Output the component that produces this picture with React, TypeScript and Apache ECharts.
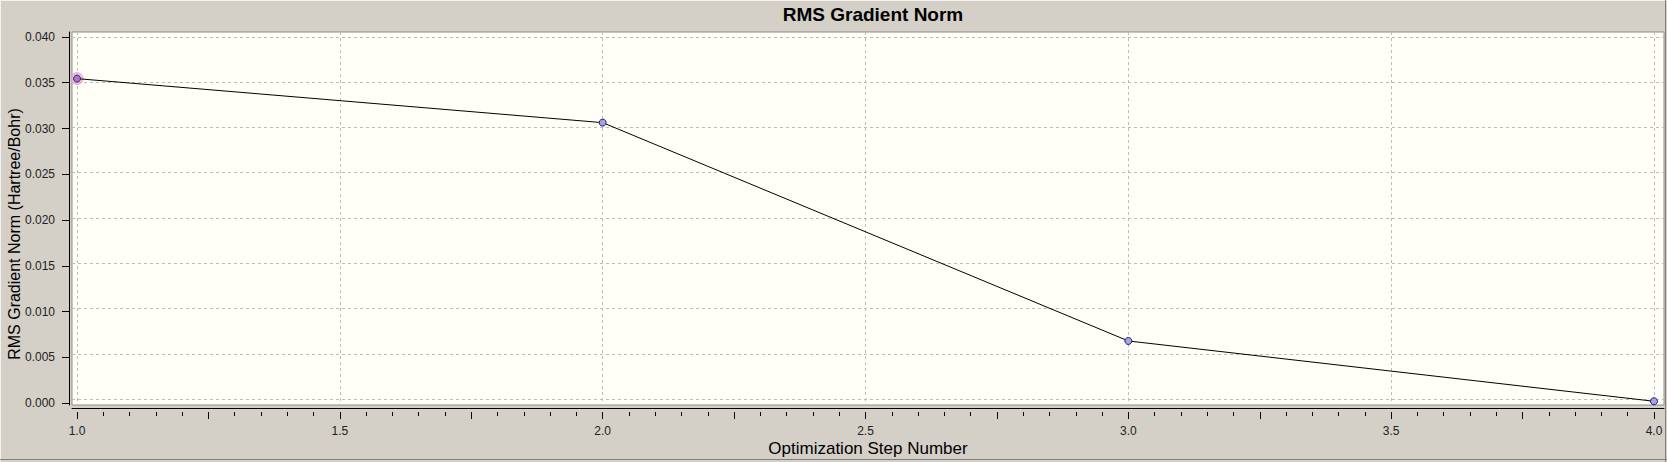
import React, { useEffect, useRef } from "react";
import * as echarts from "echarts";

// ---- chart texts ----
const TITLE = "RMS Gradient Norm";
const X_NAME = "Optimization Step Number";
const Y_NAME = "RMS Gradient Norm (Hartree/Bohr)";

// ---- data ----
const steps = [1, 2, 3, 4];
const rmsGradient = [0.03545, 0.03064, 0.00678, 0.00019];
const selectedIndex = 0;

// ---- axes ----
const xRange = [1, 4];
const xLabelStep = 0.5;
const xTickStep = 0.25;
const yRange = [0, 0.04];
const yStep = 0.005;
// whole plot area is slightly wider than the data range
const xView = [0.99049, 4.01902];
const yView = [-0.000656, 0.040546];

const FONT = "'Liberation Sans', Arial, Helvetica, sans-serif";

export default function App() {
  const ref = useRef<HTMLDivElement>(null);

  useEffect(() => {
    document.body.style.margin = "0";
    const chart = echarts.init(ref.current as HTMLDivElement, null, { renderer: "svg" });
    const data = steps.map((s, i) => [s, rmsGradient[i]]);

    const gridLine = { show: true, showMinLine: false, showMaxLine: false, lineStyle: { color: "#bcbcbc", type: [3, 3], width: 1 } };

    chart.setOption({
      animation: false,
      backgroundColor: "#D4D0C8",
      title: {
        text: TITLE,
        left: 868,
        top: 0,
        textAlign: "center",
        textStyle: { fontFamily: FONT, fontSize: 19, fontWeight: "bold", color: "#000" },
      },
      grid: [
        { left: 72, right: 3, top: 32, bottom: 53, show: true, backgroundColor: "#FFFFF8", borderColor: "#8c8c8c", borderWidth: 1 },
        { left: 77, right: 13, top: 37, bottom: 59 },
      ],
      xAxis: [
        {
          gridIndex: 0,
          type: "value",
          min: xView[0],
          max: xView[1],
          splitNumber: 6,
          offset: 3,
          axisLine: { show: true, onZero: false, lineStyle: { color: "#000", width: 1 } },
          axisTick: { show: false },
          axisLabel: { show: false },
          splitLine: gridLine,
          name: X_NAME,
          nameLocation: "middle",
          nameGap: 32,
          nameTextStyle: { fontFamily: FONT, fontSize: 17, color: "#000" },
        },
        {
          gridIndex: 1,
          type: "value",
          min: xRange[0],
          max: xRange[1],
          interval: xTickStep,
          offset: 9,
          axisLine: { show: false, onZero: false },
          axisTick: { show: true, length: 7, lineStyle: { color: "#000" } },
          minorTick: { show: true, splitNumber: 5, length: 4, lineStyle: { color: "#000" } },
          axisLabel: {
            show: true,
            margin: 13,
            fontFamily: FONT,
            fontSize: 12,
            color: "#222",
            formatter: (v: number) => {
              const k = v / xLabelStep;
              return Math.abs(k - Math.round(k)) < 1e-6 ? v.toFixed(1) : "";
            },
          },
          splitLine: { show: false },
        },
      ],
      yAxis: [
        {
          gridIndex: 0,
          type: "value",
          min: yView[0],
          max: yView[1],
          splitNumber: 8,
          offset: 3,
          axisLine: { show: true, onZero: false, lineStyle: { color: "#000", width: 1 } },
          axisTick: { show: false },
          axisLabel: { show: false },
          splitLine: gridLine,
        },
        {
          gridIndex: 1,
          type: "value",
          min: yRange[0],
          max: yRange[1],
          interval: yStep,
          offset: 8,
          axisLine: { show: false, onZero: false },
          axisTick: { show: true, length: 7, lineStyle: { color: "#000" } },
          axisLabel: {
            show: true,
            margin: 14,
            fontFamily: FONT,
            fontSize: 12,
            color: "#222",
            formatter: (v: number) => v.toFixed(3),
          },
          splitLine: { show: false },
        },
      ],
      graphic: [
        {
          type: "text",
          x: 14,
          y: 234,
          rotation: Math.PI / 2,
          style: { text: Y_NAME, fontFamily: FONT, fontSize: 16, fill: "#000", align: "center", verticalAlign: "middle" },
        },
        { type: "line", shape: { x1: 0, y1: 0.5, x2: 1667, y2: 0.5 }, style: { stroke: "#f4f2ee", lineWidth: 1 } },
        { type: "line", shape: { x1: 0.5, y1: 0, x2: 0.5, y2: 462 }, style: { stroke: "#f4f2ee", lineWidth: 1 } },
        { type: "line", shape: { x1: 0, y1: 459.5, x2: 1667, y2: 459.5 }, style: { stroke: "#808080", lineWidth: 1 } },
        { type: "line", shape: { x1: 1665.5, y1: 0, x2: 1665.5, y2: 462 }, style: { stroke: "#808080", lineWidth: 1 } },
      ],
      series: [
        {
          type: "scatter",
          xAxisIndex: 1,
          yAxisIndex: 1,
          data: [data[selectedIndex]],
          symbol: "circle",
          symbolSize: 12,
          itemStyle: { color: "rgba(238,176,220,0.95)", borderColor: "#dc98cc", borderWidth: 1 },
          silent: true,
          z: 2,
        },
        {
          type: "line",
          xAxisIndex: 1,
          yAxisIndex: 1,
          data: data.map((d, i) =>
            i === selectedIndex ? { value: d, itemStyle: { color: "#a57acb", borderColor: "#3a2060" } } : d
          ),
          symbol: "circle",
          symbolSize: 7,
          showAllSymbol: true,
          clip: false,
          lineStyle: { color: "#000", width: 1 },
          itemStyle: { color: "#a4a4e4", borderColor: "#1e1e6e", borderWidth: 1 },
          z: 3,
        },
      ],
    });

    return () => chart.dispose();
  }, []);

  return <div ref={ref} style={{ width: 1667, height: 462 }} />;
}
